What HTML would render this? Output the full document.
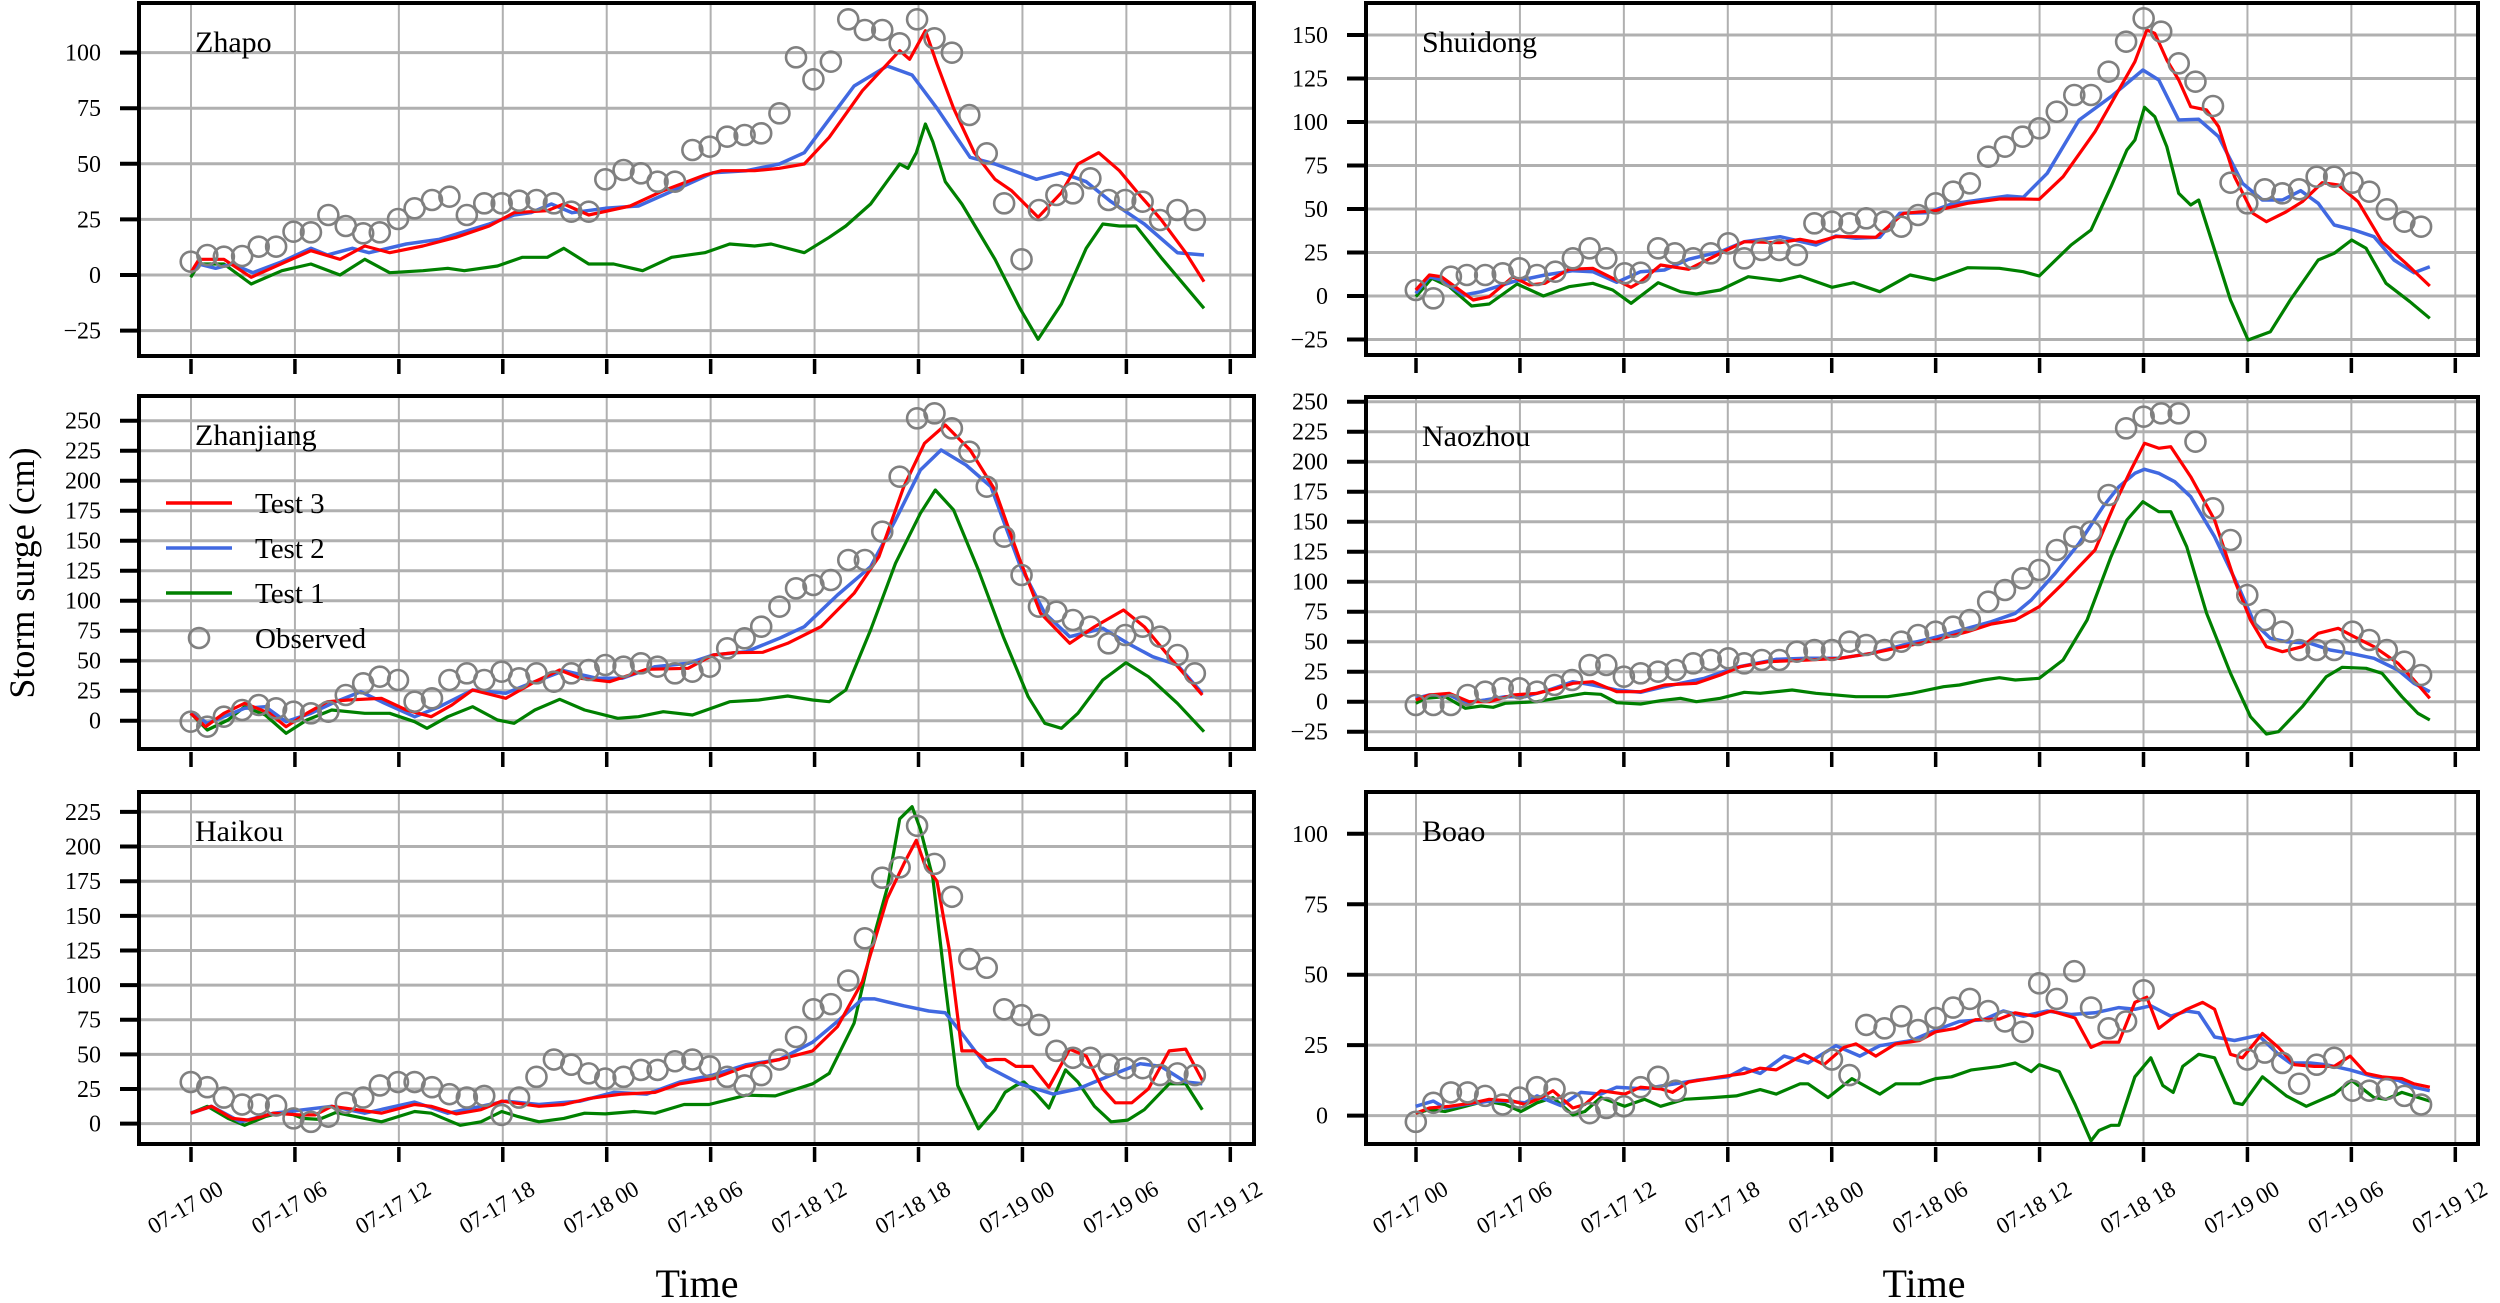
<!DOCTYPE html>
<html><head><meta charset="utf-8"><style>
html,body{margin:0;padding:0;background:#fff;}
svg{display:block;}
text{font-family:"Liberation Serif",serif;fill:#000;}
</style></head><body>
<svg id="s" width="2500" height="1303" xmlns="http://www.w3.org/2000/svg"></svg>
<script>
const NS="http://www.w3.org/2000/svg";
const S=document.getElementById('s');
function el(t,a,txt){const e=document.createElementNS(NS,t);for(const k in a)e.setAttribute(k,a[k]);if(txt!==undefined)e.textContent=txt;S.appendChild(e);return e;}
const P=[
{name:"Zhapo",ox:0,sx:1.206,oy:0,sy:3,fx1:139,fx2:1254,fy1:3,fy2:356,z:275,p:55.6,t0:-25,t1:100,xt:191,row:0,
obs:[230,785,250,765,270,770,292,768,312,740,333,740,354,695,375,697,396,645,417,678,438,700,458,697,480,657,500,625,521,600,542,590,563,645,584,610,605,610,626,602,647,600,668,610,689,635,710,635,730,538,752,510,773,520,793,545,814,545,835,450,856,440,877,410,898,405,918,400,940,340,960,172,981,238,1002,185,1023,58,1043,90,1064,90,1085,130,1106,58,1127,115,1148,158,1169,345,1190,460,1211,610,1232,778,1253,630,1274,585,1294,580,1315,535,1337,600,1357,600,1378,605,1399,660,1420,630,1441,660],
r:[230,818,240,778,270,778,303,832,345,785,375,752,410,778,440,738,470,758,510,738,550,712,590,678,620,638,660,632,680,612,710,645,760,618,800,572,850,525,870,512,910,512,940,505,970,492,1000,412,1040,272,1085,152,1097,178,1116,92,1130,192,1150,325,1175,458,1200,538,1220,572,1252,652,1280,578,1300,492,1325,458,1350,512,1370,572,1400,658,1430,758,1452,845],
b:[230,818,240,792,260,805,280,792,305,818,340,785,375,745,395,765,425,745,445,758,490,732,530,718,590,672,620,645,640,638,665,612,690,638,730,625,770,618,800,585,830,552,860,518,900,512,940,492,970,458,1000,358,1030,258,1070,198,1100,225,1130,325,1170,472,1200,492,1250,538,1280,518,1310,545,1340,605,1380,672,1420,758,1452,765],
g:[230,832,240,792,270,792,303,852,340,812,375,792,410,825,440,778,470,818,510,812,540,805,560,812,600,798,630,772,660,772,680,745,710,792,740,792,775,812,810,772,850,758,880,732,910,738,930,732,970,758,1000,712,1020,678,1050,612,1085,492,1095,505,1105,458,1116,372,1125,425,1140,545,1160,612,1200,778,1230,925,1252,1018,1280,912,1310,745,1330,672,1350,678,1370,678,1400,772,1452,925]},
{name:"Shuidong",ox:1250,sx:1.2544,oy:0,sy:3,fx1:1366,fx2:2478,fy1:3,fy2:355,z:296,p:43.5,t0:-25,t1:150,xt:1416,row:0,
obs:[208,870,230,895,252,830,272,825,295,825,317,820,338,805,360,825,383,815,405,775,426,745,447,775,470,820,490,818,512,745,533,760,556,775,578,760,600,730,620,775,642,750,664,750,686,765,708,670,730,665,752,670,773,655,796,665,817,680,838,645,860,610,882,575,903,550,926,470,947,440,969,410,990,385,1012,335,1034,285,1055,285,1077,215,1099,125,1121,55,1143,95,1165,190,1186,245,1208,318,1230,548,1251,610,1273,568,1295,580,1316,568,1338,530,1360,530,1383,548,1404,575,1426,628,1448,665,1469,680],
r:[208,870,225,825,240,830,260,865,280,900,300,890,330,830,350,855,370,850,400,808,430,805,455,835,478,862,490,845,515,795,550,808,590,760,620,725,665,728,690,718,710,727,735,710,760,710,785,712,820,640,860,632,900,610,940,597,970,597,990,598,1020,530,1060,395,1110,185,1125,90,1135,100,1150,180,1165,240,1180,320,1200,330,1215,380,1235,530,1258,640,1275,665,1300,635,1320,605,1345,548,1365,555,1390,605,1420,725,1450,790,1480,858],
b:[208,880,225,830,240,840,268,885,290,875,330,845,370,825,405,812,430,815,460,847,490,815,520,810,550,778,590,755,620,725,665,710,710,735,735,708,760,715,790,712,815,640,850,638,880,612,920,598,950,588,970,592,1000,520,1040,360,1080,290,1120,210,1140,240,1165,360,1190,358,1215,410,1245,550,1270,600,1295,600,1318,572,1340,610,1360,675,1385,690,1410,710,1435,780,1460,818,1480,800],
g:[208,890,228,835,250,860,278,918,300,912,335,852,368,888,400,860,430,850,455,870,478,910,512,848,540,875,560,882,590,870,625,830,665,842,690,828,730,862,757,848,790,875,828,825,858,840,900,803,940,805,970,815,990,828,1030,735,1055,690,1080,560,1100,450,1110,420,1122,322,1135,350,1150,440,1165,580,1180,615,1190,600,1210,750,1230,900,1252,1020,1280,995,1305,900,1340,780,1360,760,1382,720,1400,745,1425,850,1455,905,1480,955]},
{name:"Zhanjiang",ox:0,sx:1.206,oy:380,sy:3,fx1:139,fx2:1254,fy1:396,fy2:749,z:720.7,p:30,t0:0,t1:250,xt:191,row:1,
obs:[230,1025,250,1040,270,1010,292,990,312,975,333,985,354,995,375,1000,396,995,417,945,438,910,458,890,480,900,500,965,521,955,542,900,563,880,584,900,605,875,626,895,647,880,668,905,689,880,710,870,730,855,752,860,773,850,793,860,814,880,835,875,856,860,877,805,898,775,918,740,940,680,960,625,981,615,1002,600,1023,540,1043,540,1064,455,1085,290,1106,115,1127,100,1148,145,1169,215,1190,320,1211,470,1232,585,1253,680,1274,695,1294,720,1315,740,1337,790,1357,765,1378,740,1399,770,1420,825,1441,880],
r:[230,1000,248,1040,270,1000,295,970,325,1000,345,1040,370,1000,395,965,420,960,460,955,490,990,520,1010,545,975,570,930,610,955,645,905,675,870,700,895,735,905,780,868,830,865,860,825,885,818,920,817,950,790,990,740,1030,640,1060,530,1090,320,1115,190,1140,135,1170,210,1200,330,1230,540,1255,700,1290,790,1320,740,1355,690,1380,740,1410,830,1450,945],
b:[230,995,250,1030,270,1010,295,985,320,980,345,1025,375,1000,405,965,435,935,460,965,500,1010,530,980,570,930,610,940,640,910,680,872,720,895,750,895,790,860,830,850,860,825,900,815,940,775,970,740,1010,645,1050,560,1080,420,1110,270,1135,210,1165,255,1195,320,1230,555,1260,700,1290,770,1330,745,1360,790,1390,830,1420,855,1450,940],
g:[230,1000,250,1050,275,1020,295,980,320,1005,345,1060,370,1020,400,990,440,1000,470,1000,500,1025,515,1045,540,1010,570,980,600,1020,620,1030,645,990,675,958,705,990,745,1015,770,1010,800,995,835,1005,880,965,915,960,950,948,980,960,1000,965,1020,930,1050,750,1080,550,1110,400,1128,330,1150,390,1180,570,1210,770,1240,950,1260,1030,1280,1045,1300,1000,1330,900,1358,848,1385,890,1420,970,1452,1055]},
{name:"Naozhou",ox:1250,sx:1.2544,oy:380,sy:3,fx1:1366,fx2:2478,fy1:397,fy2:749,z:701.7,p:30,t0:-25,t1:250,xt:1416,row:1,
obs:[208,975,230,975,252,975,273,945,295,935,317,925,338,925,360,935,382,915,404,900,426,855,447,855,469,890,490,880,512,875,534,870,556,850,578,840,600,835,620,850,642,840,664,840,686,815,708,810,730,810,752,785,773,795,796,810,817,785,838,765,860,755,882,740,903,720,926,665,947,630,969,595,990,570,1012,510,1034,470,1055,455,1077,345,1099,145,1121,110,1143,100,1165,100,1186,185,1208,385,1230,480,1251,645,1273,720,1295,755,1316,810,1338,810,1360,810,1383,755,1404,780,1426,810,1448,845,1469,885],
r:[208,960,225,945,250,940,275,965,300,965,330,945,360,940,385,925,405,910,430,905,460,935,490,935,520,915,560,910,590,885,615,860,650,845,700,840,740,835,780,820,820,800,860,780,900,755,930,732,960,720,990,680,1020,610,1060,510,1085,370,1105,270,1122,190,1140,205,1155,200,1180,290,1210,420,1235,600,1255,720,1275,800,1295,815,1320,800,1340,760,1365,745,1385,770,1410,800,1440,850,1460,900,1480,955],
b:[208,955,225,945,250,945,270,968,295,960,320,950,345,950,375,930,405,905,430,915,460,930,490,937,520,920,570,895,610,862,660,838,700,835,740,835,780,820,820,795,860,772,900,745,930,725,960,700,980,660,1010,580,1040,490,1070,380,1090,320,1110,280,1122,268,1140,280,1160,305,1180,350,1210,470,1240,620,1260,730,1280,775,1300,785,1330,790,1355,810,1380,820,1410,835,1440,870,1460,910,1480,935],
g:[208,970,220,955,245,950,270,985,290,978,305,982,320,970,360,965,395,950,420,940,440,943,460,968,490,972,515,962,540,955,560,965,590,955,620,937,640,940,680,930,710,940,760,950,800,950,830,940,870,920,890,915,920,900,940,893,960,900,990,895,1020,840,1050,720,1080,530,1100,420,1120,365,1140,395,1155,395,1175,500,1200,700,1230,880,1255,1010,1275,1062,1290,1055,1320,980,1350,890,1370,862,1400,865,1420,880,1445,950,1465,1000,1480,1020]},
{name:"Haikou",ox:0,sx:1.206,oy:760,sy:2.888,fx1:139,fx2:1254,fy1:792,fy2:1144,z:1123.6,p:34.63,t0:0,t1:225,xt:191,row:2,
obs:[230,930,250,945,270,975,292,995,312,995,333,998,354,1035,375,1045,396,1030,417,990,438,975,458,940,480,930,500,930,521,945,542,965,563,975,584,970,605,1025,626,975,647,915,668,865,689,880,710,905,730,920,752,915,773,895,793,895,814,870,835,865,856,885,877,915,898,940,918,910,940,865,960,800,981,720,1002,705,1023,637,1043,515,1064,340,1085,310,1106,190,1127,300,1148,395,1169,575,1190,600,1211,720,1232,737,1253,765,1274,840,1294,860,1315,860,1337,880,1357,890,1378,890,1399,910,1420,905,1441,910],
r:[230,1020,255,1000,280,1035,300,1040,330,1020,360,1025,380,1025,400,1000,430,1010,460,1020,500,995,520,1000,550,1022,580,1010,605,985,650,1000,680,995,710,978,750,965,790,960,820,935,860,920,900,885,940,865,980,840,1010,770,1040,640,1070,400,1090,300,1105,232,1115,300,1130,350,1145,550,1160,840,1175,840,1190,868,1200,865,1212,865,1225,885,1245,885,1265,945,1290,835,1310,855,1330,950,1345,990,1365,990,1385,950,1410,840,1430,835,1450,925],
b:[230,1020,255,1000,290,1045,330,1020,360,1012,400,1000,440,1020,500,988,540,1020,580,1000,610,985,650,995,700,985,740,960,780,965,820,930,860,910,900,880,940,865,980,815,1010,755,1040,690,1055,690,1090,710,1120,725,1140,730,1160,790,1190,885,1230,935,1270,965,1300,950,1340,910,1375,877,1400,885,1430,930,1450,935],
g:[230,1020,250,1000,275,1035,295,1055,320,1030,345,1015,365,1035,385,1038,405,1018,440,1035,460,1045,500,1015,520,1020,555,1055,580,1045,605,1015,625,1030,650,1045,680,1035,705,1020,730,1022,765,1015,790,1020,825,995,855,995,900,968,935,970,980,935,1000,905,1030,760,1055,500,1070,370,1085,170,1100,135,1110,200,1125,340,1140,650,1155,940,1180,1065,1200,1010,1212,960,1225,940,1235,930,1250,965,1265,1005,1285,895,1300,930,1320,1000,1340,1045,1360,1040,1380,1010,1410,935,1430,935,1450,1010]},
{name:"Boao",ox:1250,sx:1.2544,oy:760,sy:2.888,fx1:1366,fx2:2478,fy1:792,fy2:1144,z:1115.6,p:70.45,t0:0,t1:100,xt:1416,row:2,
obs:[208,1045,230,990,252,960,273,960,295,970,317,995,338,975,360,945,382,950,404,990,426,1020,447,1005,469,1000,490,945,512,915,534,955,730,865,752,910,773,765,796,775,817,740,838,780,860,745,882,715,903,690,926,725,947,755,969,785,990,645,1012,690,1034,610,1055,715,1077,775,1099,755,1121,665,1251,865,1273,845,1295,875,1316,935,1338,880,1360,860,1383,955,1404,955,1426,950,1448,970,1469,995],
r:[208,1020,225,1005,250,1000,280,990,300,980,330,985,345,995,365,975,380,955,405,1005,420,995,440,955,470,965,490,945,515,950,530,960,550,930,590,915,620,905,640,890,660,895,695,850,720,880,745,830,760,820,785,855,810,820,840,810,860,785,885,775,910,750,940,748,960,730,985,740,1005,725,1035,745,1055,830,1070,815,1090,815,1110,700,1125,685,1140,775,1160,740,1175,720,1195,700,1210,720,1230,850,1245,860,1270,790,1290,830,1310,880,1335,885,1360,885,1380,855,1400,905,1420,915,1445,920,1460,935,1480,945],
b:[208,1000,230,985,245,1005,270,995,300,985,320,985,345,990,360,970,390,998,415,960,440,965,460,945,495,950,520,940,560,925,600,915,620,890,640,905,670,855,700,875,735,825,765,855,790,825,830,810,860,780,890,755,920,750,945,725,970,740,1000,725,1030,735,1060,730,1090,715,1110,720,1130,710,1155,740,1175,725,1190,730,1210,800,1235,810,1265,795,1290,850,1305,875,1330,875,1350,880,1380,895,1410,915,1440,925,1460,945,1480,955],
g:[208,1020,225,1010,245,1015,270,1000,295,985,320,995,340,1015,360,990,380,975,405,1025,420,1015,440,975,470,1000,495,980,515,1000,545,980,580,975,610,970,640,952,660,965,690,935,700,935,725,975,755,920,790,965,810,935,840,935,860,920,880,915,905,895,940,885,960,875,980,900,990,880,1015,900,1035,995,1055,1100,1065,1070,1080,1055,1090,1055,1110,915,1130,860,1145,940,1158,960,1170,885,1190,850,1210,860,1235,990,1245,995,1270,915,1300,970,1325,1000,1360,965,1382,925,1410,975,1425,980,1445,960,1480,985]}
];
const xl=["07-17 00","07-17 06","07-17 12","07-17 18","07-18 00","07-18 06","07-18 12","07-18 18","07-19 00","07-19 06","07-19 12"];
function pts(p,a){let s=[];for(let i=0;i<a.length;i+=2){s.push((p.ox+a[i]/p.sx).toFixed(1)+","+(p.oy+a[i+1]/p.sy).toFixed(1));}return s.join(" ");}
P.forEach(p=>{
  // grid
  for(let i=0;i<=10;i++){const x=p.xt+103.93*i;el('line',{x1:x,x2:x,y1:p.fy1,y2:p.fy2,stroke:'#b0b0b0','stroke-width':2});}
  for(let v=p.t0;v<=p.t1;v+=25){const y=p.z-v/25*p.p;el('line',{x1:p.fx1,x2:p.fx2,y1:y,y2:y,stroke:'#b0b0b0','stroke-width':3});
    el('line',{x1:p.fx1-19,x2:p.fx1,y1:y,y2:y,stroke:'#000','stroke-width':4});
    el('text',{x:p.fx1-38,y:y+8,'text-anchor':'end','font-size':24},v<0?"\u2212"+(-v):String(v));}
  // series
  el('polyline',{points:pts(p,p.g),fill:'none',stroke:'#008000','stroke-width':3.2,'stroke-linejoin':'round'});
  el('polyline',{points:pts(p,p.b),fill:'none',stroke:'#4169e1','stroke-width':3.5,'stroke-linejoin':'round'});
  el('polyline',{points:pts(p,p.r),fill:'none',stroke:'#ff0000','stroke-width':3.2,'stroke-linejoin':'round'});
  for(let i=0;i<p.obs.length;i+=2){el('circle',{cx:p.ox+p.obs[i]/p.sx,cy:p.oy+p.obs[i+1]/p.sy,r:10,fill:'none',stroke:'#808080','stroke-width':2.6});}
  // frame
  el('rect',{x:p.fx1,y:p.fy1,width:p.fx2-p.fx1,height:p.fy2-p.fy1,fill:'none',stroke:'#000','stroke-width':4});
  // x ticks
  for(let i=0;i<=10;i++){const x=p.xt+103.93*i;el('line',{x1:x,x2:x,y1:p.fy2+3,y2:p.fy2+18,stroke:'#000','stroke-width':3.5});
    if(p.row==2){const t=el('text',{x:0,y:0,'text-anchor':'middle','font-size':23,transform:`translate(${x-2},${p.fy2+70}) rotate(-30)`},xl[i]);}}
  el('text',{x:p.fx1+56,y:p.fy1+49,'font-size':30},p.name);
});
// legend
const L=[["Test 3","#ff0000",503],["Test 2","#4169e1",548],["Test 1","#008000",593]];
L.forEach(l=>{el('line',{x1:166,x2:232,y1:l[2],y2:l[2],stroke:l[1],'stroke-width':3.5});el('text',{x:255,y:l[2]+10,'font-size':29},l[0]);});
el('circle',{cx:199,cy:638,r:10,fill:'none',stroke:'#808080','stroke-width':2.6});
el('text',{x:255,y:648,'font-size':29},"Observed");
el('text',{x:0,y:0,'text-anchor':'middle','font-size':36,transform:'translate(34,573) rotate(-90)'},"Storm surge (cm)");
el('text',{x:697,y:1297,'text-anchor':'middle','font-size':40},"Time");
el('text',{x:1924,y:1297,'text-anchor':'middle','font-size':40},"Time");
</script>
</body></html>
